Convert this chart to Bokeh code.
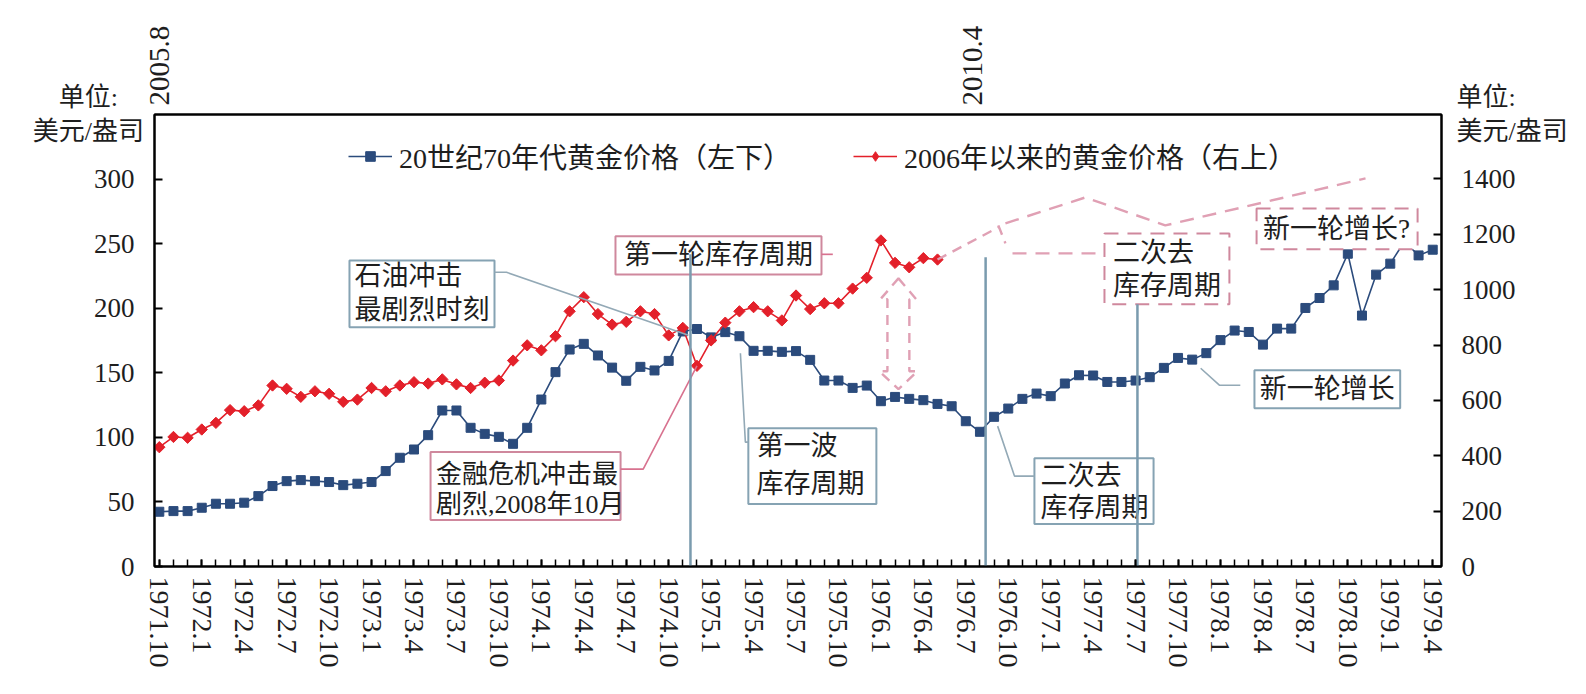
import numpy as np
from bokeh.plotting import figure
from bokeh.models import Range1d, LinearAxis, FixedTicker, Legend, LegendItem
from bokeh.embed import file_html
from bokeh.resources import INLINE
from bokeh.core.properties import value

# ---- data -------------------------------------------------------------
# bottom axis: monthly, 1971.10 .. 1979.4 (labels every 3 months)
month_tick_labels = [
    "1971.10", "1972.1", "1972.4", "1972.7", "1972.10", "1973.1", "1973.4",
    "1973.7", "1973.10", "1974.1", "1974.4", "1974.7", "1974.10", "1975.1",
    "1975.4", "1975.7", "1975.10", "1976.1", "1976.4", "1976.7", "1976.10",
    "1977.1", "1977.4", "1977.7", "1977.10", "1978.1", "1978.4", "1978.7",
    "1978.10", "1979.1", "1979.4",
]
top_tick_labels = ["2005.8", "2010.4"]
# the ideographic space keeps the short first line off the right edge
unit_caption_left = "单位:\u3000\n美元/盎司"
unit_caption_right = "单位:\n美元/盎司"

# gold price in the 1970s, USD/oz (left axis), 1971.10 .. 1979.4
gold_1970s = [
    42.4, 42.9, 42.9, 45.5, 48.6, 48.6, 49.4, 54.5, 62.3, 66.1,
    66.9, 66.1, 65.4, 63.0, 64.1, 65.4, 73.9, 84.2, 90.6, 101.7,
    120.8, 120.8, 107.4, 102.7, 100.4, 95.0, 107.4, 129.3, 150.5, 168.0,
    172.4, 163.4, 154.0, 143.8, 154.6, 151.8, 159.2, 182.0, 183.9, 177.4,
    181.5, 178.3, 167.0, 167.0, 166.2, 166.8, 160.0, 144.0, 144.0, 138.3,
    140.1, 128.0, 131.3, 129.8, 128.8, 125.9, 124.1, 112.5, 104.3, 115.9,
    122.3, 129.8, 133.9, 131.9, 141.7, 148.1, 147.9, 142.9, 142.9, 144.0,
    146.6, 153.8, 161.5, 160.2, 165.2, 175.3, 182.7, 181.6, 171.8, 184.2,
    184.2, 200.2, 207.9, 217.7, 242.2, 194.3, 226.0, 234.5, 251.7, 240.9,
    245.3,
]

# gold price since 2005.8, USD/oz (right axis), monthly
gold_since_2006 = [
    431, 468, 465, 495, 519, 565, 561, 582, 654, 642,
    613, 633, 624, 595, 603, 645, 633, 654, 666, 661,
    676, 658, 645, 664, 672, 744, 799, 781, 832, 922,
    973, 912, 874, 884, 922, 912, 835, 862, 725, 817,
    881, 922, 937, 922, 889, 979, 930, 951, 951, 1004,
    1043, 1178, 1097, 1081, 1114, 1109,
]

left_ticks = [0, 50, 100, 150, 200, 250, 300]
right_ticks = [0, 200, 400, 600, 800, 1000, 1200, 1400]

# ---- style ------------------------------------------------------------
BLUE = "#2b4b7c"
RED = "#e3202a"
STEEL = "#86a3b3"
VLINE = "#7a9bae"
PINK_BOX = "#cf889d"
PINK_DASH = "#e0a0b4"
PINK_LEAD = "#d8728f"
INK = "#1e1e1e"
FONT = "Liberation Serif, Noto Sans CJK SC"
FS = "27px"

x70 = list(range(len(gold_1970s)))
x06 = list(range(len(gold_since_2006)))
usd_per_left = 1633 / 350.0

p = figure(
    width=1586, height=694, output_backend="svg", toolbar_location=None,
    x_range=Range1d(-0.34, 90.62), y_range=Range1d(0, 350),
    min_border_left=154, min_border_right=145, min_border_top=114,
    min_border_bottom=128,
)
p.extra_y_ranges = {"usd": Range1d(0, 1633)}
p.xgrid.visible = False
p.ygrid.visible = False
p.outline_line_color = "black"
p.outline_line_width = 2
p.outline_line_alpha = 1
p.background_fill_color = "white"
p.border_fill_color = "white"

AXIS_PROPS = LinearAxis.properties()


def style_axis(ax, size="27px"):
    ax.axis_line_width = 2
    ax.axis_line_color = "black"
    ax.major_tick_line_width = 2
    ax.major_tick_line_color = "black"
    ax.minor_tick_line_color = "black"
    ax.minor_tick_line_width = 1.5
    ax.major_label_text_font = "Liberation Serif"
    ax.major_label_text_font_size = size
    ax.major_label_text_color = INK
    ax.major_tick_out = 0


def unit_title(ax, caption, standoff):
    """Horizontal 'unit' caption sitting at the top end of a value axis."""
    ax.axis_label = caption
    ax.axis_label_text_font = FONT
    ax.axis_label_text_font_size = "26px"
    ax.axis_label_text_font_style = "normal"
    ax.axis_label_text_color = INK
    ax.axis_label_standoff = standoff
    if "axis_label_orientation" in AXIS_PROPS:
        ax.axis_label_orientation = "horizontal"
    if "axis_label_align" in AXIS_PROPS:
        for a in ("end", "right", "top"):
            try:
                ax.axis_label_align = a
                break
            except Exception:
                pass


# left axis (1970s prices)
ly = p.yaxis[0]
ly.ticker = FixedTicker(ticks=left_ticks)
style_axis(ly)
ly.major_tick_in = 8
ly.minor_tick_in = 0
ly.minor_tick_out = 0
ly.major_label_standoff = 20
unit_title(ly, unit_caption_left, -53)

# right axis (prices since 2006)
ry = LinearAxis(y_range_name="usd", ticker=FixedTicker(ticks=right_ticks))
style_axis(ry)
ry.major_tick_in = 8
ry.minor_tick_in = 0
ry.minor_tick_out = 0
ry.major_label_standoff = 20
unit_title(ry, unit_caption_right, -62)
p.add_layout(ry, "right")

# bottom month axis
bx = p.xaxis[0]
label_pos = list(range(0, 91, 3))
bx.ticker = FixedTicker(ticks=label_pos, minor_ticks=list(range(91)))
bx.major_label_overrides = {i: s for i, s in zip(label_pos, month_tick_labels)}
style_axis(bx, "28px")
bx.major_tick_in = 7
bx.minor_tick_in = 7
bx.minor_tick_out = 0
bx.major_label_orientation = "vertical"
bx.major_label_standoff = 10

# top axis with the 2000s dates
tx = LinearAxis(ticker=FixedTicker(ticks=[0, 57.5]))
tx.major_label_overrides = {0: top_tick_labels[0], 57.5: top_tick_labels[1]}
style_axis(tx, "29px")
tx.major_tick_in = 0
tx.minor_tick_in = 0
tx.minor_tick_out = 0
tx.major_label_orientation = "vertical"
tx.major_label_standoff = 9
p.add_layout(tx, "above")

# ---- series -----------------------------------------------------------
blue_line = p.line(x70, gold_1970s, line_color=BLUE, line_width=1.6)
blue_pts = p.scatter(x70, gold_1970s, marker="square", size=9,
                     fill_color=BLUE, line_color=BLUE)
red_line = p.line(x06, gold_since_2006, y_range_name="usd",
                  line_color=RED, line_width=1.6)
red_pts = p.scatter(x06, gold_since_2006, y_range_name="usd", marker="square",
                    angle=np.pi / 4, size=8, fill_color=RED, line_color=RED)
# diamond swatch for the legend (the plotted points are rotated squares)
red_key = p.scatter(x06, gold_since_2006, y_range_name="usd", marker="diamond",
                    fill_color=RED, line_color=RED, visible=False)

legend = Legend(
    items=[
        LegendItem(label="20世纪70年代黄金价格（左下）", renderers=[blue_line, blue_pts]),
        LegendItem(label="2006年以来的黄金价格（右上）", renderers=[red_line, red_key]),
    ],
    orientation="horizontal", location=(194, 390),
    glyph_width=44, glyph_height=24, label_standoff=7, spacing=62,
    padding=0, margin=0, border_line_color=None, background_fill_alpha=0,
    inactive_fill_alpha=0,
    label_text_font=FONT, label_text_font_size="28px", label_text_color=INK,
)
p.add_layout(legend)

# ---- annotation boxes -------------------------------------------------
def box(l, r, t, b, color, dash="solid"):
    p.quad(left=[l], right=[r], top=[t], bottom=[b], fill_color="white",
           fill_alpha=1, line_color=color, line_width=2, line_dash=dash)


def words(x, ys, lines, align="left", size=FS):
    p.text(x=[x] * len(lines), y=ys, text=lines, text_font=value(FONT),
           text_font_size=value(size), text_color=INK, text_align=align,
           text_baseline="middle")


def lead(xs, ys, color, width=1.6, dash="solid"):
    p.line(xs, ys, line_color=color, line_width=width, line_dash=dash)


# projected path of the recent price (dashed)
lead([55.0, 59.3], [gold_since_2006[-1] / usd_per_left, 262.6], PINK_DASH, 2.4, "10 7")
lead([59.3, 59.8], [264.1, 250.2], PINK_DASH, 2.4, "10 7")
lead([60.3, 66.8], [242.5, 242.5], PINK_DASH, 2.4, "14 9")
lead([59.8, 65.45, 71.1, 85.25], [265.7, 285.8, 264.1, 300.5], PINK_DASH, 2.4, "14 9")

# double-headed arrow marking the gap between the two series
p.patch([52.24, 53.5, 53.01, 53.01, 53.58, 52.24, 50.89, 51.46, 51.46, 50.96],
        [223.1, 206.9, 206.9, 151.2, 151.2, 137.3, 151.2, 151.2, 206.9, 206.9],
        fill_alpha=0, line_color=PINK_DASH, line_width=2.4, line_dash="10 7")

# oil shock
box(13.44, 23.69, 237.0, 185.2, STEEL)
words(13.8, [224.7, 198.4], ["石油冲击", "最剧烈时刻"])
lead([23.69, 24.54, 37.4], [227.8, 227.8, 179.0], "#93a9b6")

# financial crisis
box(19.17, 32.6, 88.6, 36.0, PINK_BOX)
words(19.55, [71.5, 48.3], ["金融危机冲击最", "剧烈,2008年10月"], size="26px")
lead([32.6, 34.2, 38.0], [75.4, 75.4, gold_since_2006[38] / usd_per_left], PINK_LEAD)

# first inventory cycle
box(32.24, 46.8, 255.7, 226.2, PINK_BOX)
words(39.52, [240.9], ["第一轮库存周期"], "center")
lead([46.8, 47.6], [241.7, 241.7], PINK_LEAD)

box(41.63, 50.68, 107.1, 48.3, STEEL)
words(42.2, [93.2, 63.8], ["第一波", "库存周期"])
lead([41.07, 41.42, 41.63], [165.1, 96.3, 96.3], "#93a9b6")

# second destocking cycle
box(61.85, 70.27, 83.9, 32.9, STEEL)
words(62.28, [70.0, 45.2], ["二次去", "库存周期"])
lead([59.25, 60.44, 61.85], [108.7, 70.0, 70.0], "#93a9b6")

box(66.8, 75.63, 257.9, 203.0, PINK_BOX, "14 9")
words(67.4, [242.5, 216.9], ["二次去", "库存周期"])

# new growth
box(77.4, 87.7, 152.0, 122.6, STEEL)
words(82.55, [137.3], ["新一轮增长"], "center")
lead([73.6, 74.92, 76.4], [153.5, 140.4, 140.4], "#93a9b6")

box(77.55, 88.93, 277.2, 245.6, PINK_BOX, "14 9")
words(78.0, [261.0], ["新一轮增长?"])

# vertical cycle markers
for xv, top in [(37.54, 241.7), (58.4, 239.4), (69.13, 203.0)]:
    p.line([xv, xv], [0, top], line_color=VLINE, line_width=2.5)

open("out.html", "w").write(file_html(p, INLINE))
